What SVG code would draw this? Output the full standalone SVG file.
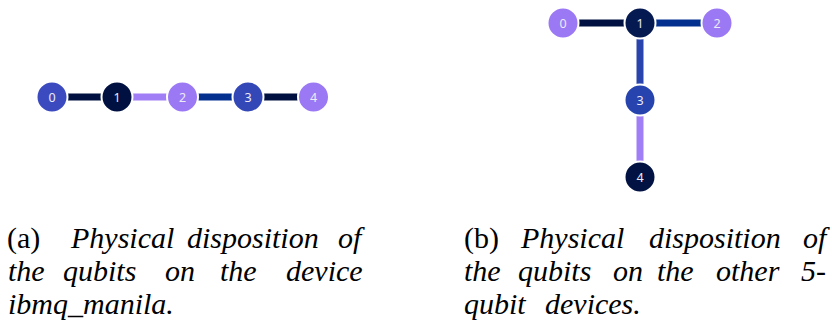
<svg xmlns="http://www.w3.org/2000/svg" width="832" height="325" viewBox="0 0 832 325">
  <style>
    .edge { stroke-width: 7; stroke-linecap: butt; fill: none; }
    .node circle { stroke: #ffffff; stroke-width: 2; }
    .node text { font-family: "Noto Sans", "Open Sans", sans-serif; font-size: 12.5px; fill: #ecebf5; text-anchor: middle; dominant-baseline: central; }
    .cap { font-family: "Liberation Serif", "Times New Roman", serif; font-size: 30px; fill: #000000; font-style: italic; }
    .up { font-style: normal; }
    .navy { stroke: #001141; }
    .purple { stroke: #a07ef6; }
    .blue { stroke: #03308f; }
    .indigo { stroke: #2a44ad; }
  </style>

  <!-- connectors: linear 5-qubit chain and T-shaped 5-qubit layout -->
  <g id="connectors">
    <line class="edge navy" x1="52" y1="97" x2="117" y2="97"/>
    <line class="edge purple" x1="117" y1="97" x2="182.5" y2="97"/>
    <line class="edge blue" x1="182.5" y1="97" x2="248" y2="97"/>
    <line class="edge navy" x1="248" y1="97" x2="313.5" y2="97"/>

    <line class="edge navy" x1="563" y1="23" x2="640" y2="23"/>
    <line class="edge blue" x1="640" y1="23" x2="717" y2="23"/>
    <line class="edge indigo" x1="640" y1="23" x2="640" y2="100"/>
    <line class="edge purple" x1="640" y1="100" x2="640" y2="177"/>
  </g>

  <!-- linear chain nodes -->
  <g id="a-q0" class="node"><circle cx="52" cy="97" r="15.5" fill="#3b4bbf"/><text x="52" y="97">0</text></g>
  <g id="a-q1" class="node"><circle cx="117" cy="97" r="15.5" fill="#001141"/><text x="117" y="97">1</text></g>
  <g id="a-q2" class="node"><circle cx="182.5" cy="97" r="15.5" fill="#9b78f4"/><text x="182.5" y="97">2</text></g>
  <g id="a-q3" class="node"><circle cx="248" cy="97" r="15.5" fill="#3447b6"/><text x="248" y="97">3</text></g>
  <g id="a-q4" class="node"><circle cx="313.5" cy="97" r="15.5" fill="#9b78f4"/><text x="313.5" y="97">4</text></g>

  <!-- T layout nodes -->
  <g id="b-q0" class="node"><circle cx="563" cy="23" r="15.5" fill="#9b78f4"/><text x="563" y="23">0</text></g>
  <g id="b-q1" class="node"><circle cx="640" cy="23" r="15.5" fill="#061a52"/><text x="640" y="23">1</text></g>
  <g id="b-q2" class="node"><circle cx="717" cy="23" r="15.5" fill="#9b78f4"/><text x="717" y="23">2</text></g>
  <g id="b-q3" class="node"><circle cx="640" cy="100" r="15.5" fill="#2643ae"/><text x="640" y="100">3</text></g>
  <g id="b-q4" class="node"><circle cx="640" cy="177" r="15.5" fill="#021343"/><text x="640" y="177">4</text></g>

  <!-- captions, justified by placing each word -->
  <g id="caption-a">
    <text class="cap" y="248"><tspan class="up" x="7">(a)</tspan><tspan x="71">Physical</tspan><tspan x="187">disposition</tspan><tspan x="338">of</tspan></text>
    <text class="cap" y="281"><tspan x="8">the</tspan><tspan x="63">qubits</tspan><tspan x="165">on</tspan><tspan x="220">the</tspan><tspan x="286">device</tspan></text>
    <text class="cap" y="314" x="8">ibmq_manila.</text>
  </g>

  <g id="caption-b">
    <text class="cap" y="248"><tspan class="up" x="464">(b)</tspan><tspan x="521">Physical</tspan><tspan x="649">disposition</tspan><tspan x="803">of</tspan></text>
    <text class="cap" y="281"><tspan x="464">the</tspan><tspan x="518">qubits</tspan><tspan x="613">on</tspan><tspan x="657">the</tspan><tspan x="716">other</tspan><tspan x="801">5-</tspan></text>
    <text class="cap" y="314"><tspan x="464">qubit</tspan><tspan x="545">devices.</tspan></text>
  </g>
</svg>
